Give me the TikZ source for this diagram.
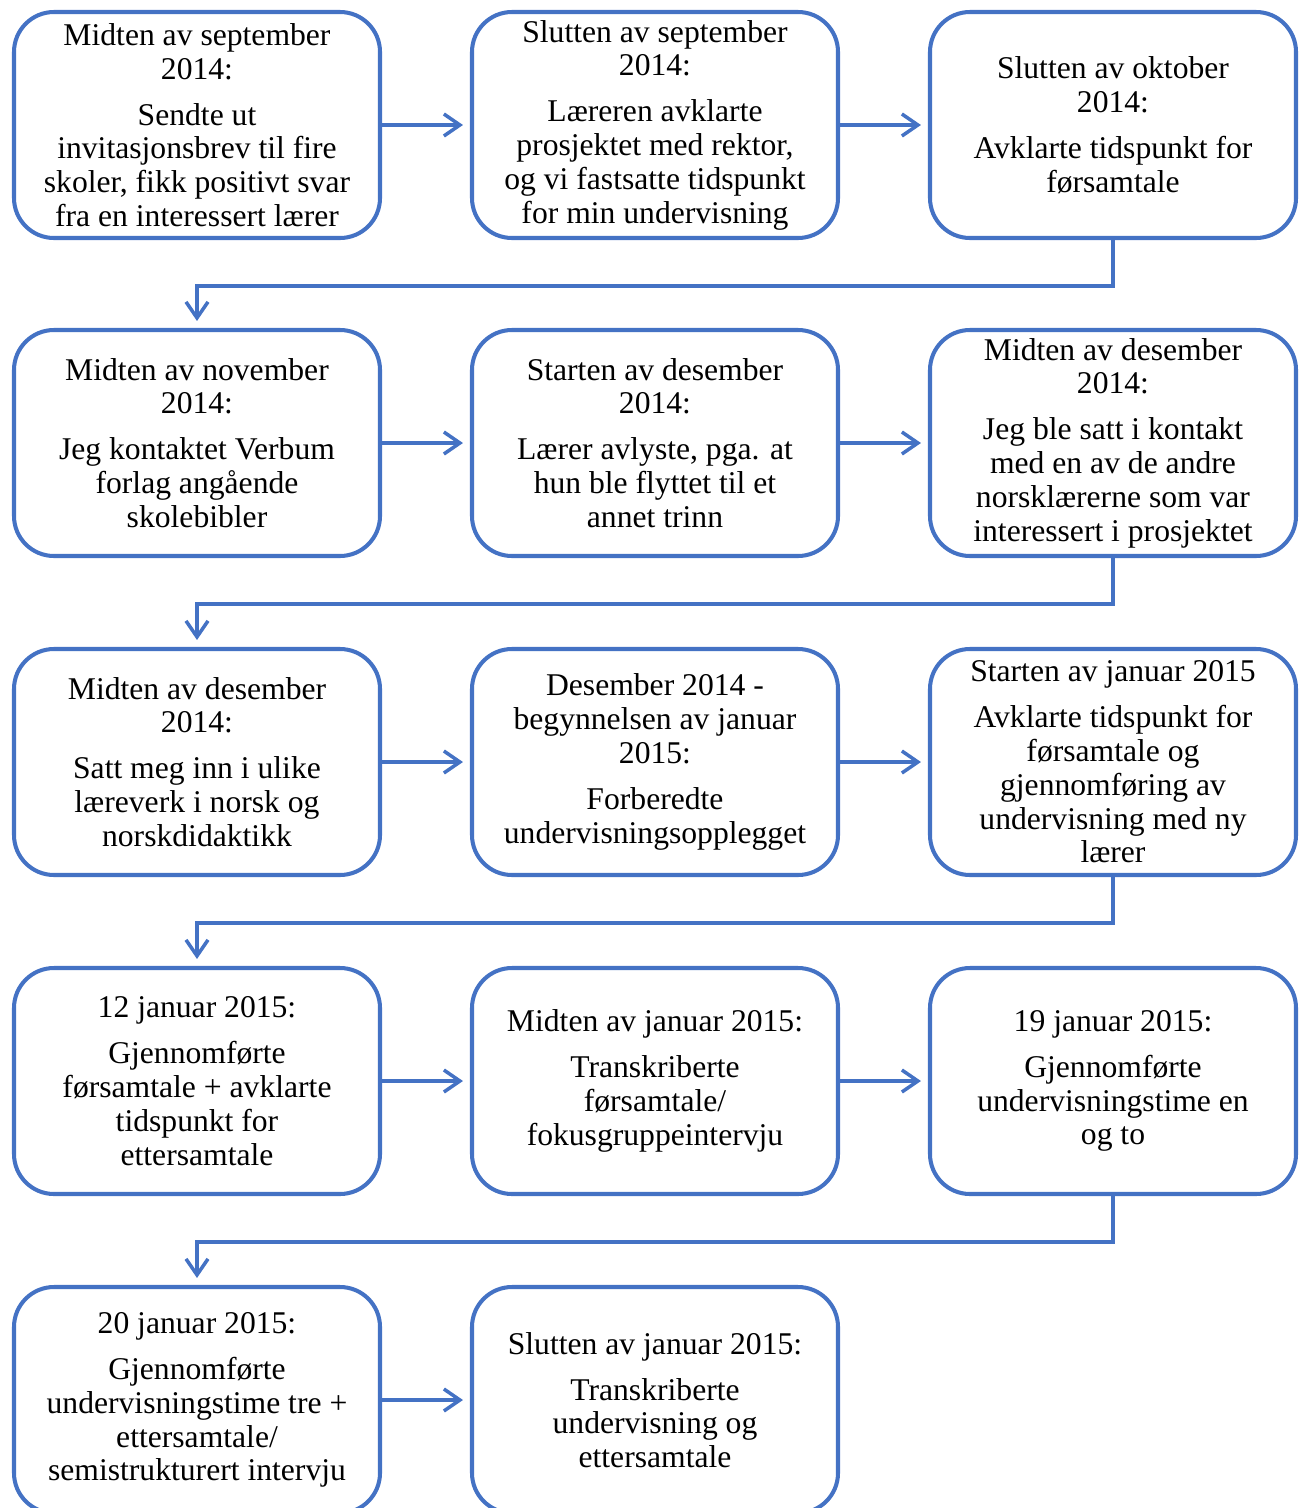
\documentclass[tikz,border=0pt]{standalone}
\usepackage{fontspec}
\setmainfont{Liberation Serif}
\usepackage{tikz}
\usetikzlibrary{arrows.meta, positioning, calc}
\definecolor{flowblue}{HTML}{4472C4}
\tikzset{
    arrow/.style={draw=flowblue, line width=2pt, -{Straight Barb[length=0.32cm, width=0.44cm]}, shorten >=0.14cm},
    turn/.style={draw=flowblue, line width=2pt, -{Straight Barb[length=0.32cm, width=0.44cm]}, shorten >=0.14cm, rounded corners=0pt}
}

\begin{document}
\begin{tikzpicture}[
    event/.style={rectangle, rounded corners=0.8cm, draw=flowblue, line width=2.3pt, fill=white, align=center, minimum width=7.32cm, minimum height=4.52cm, inner sep=0pt, font=\fontsize{18}{19.2}\selectfont}
]
    \useasboundingbox (0,0) rectangle (26.02,-30.16);

    % row 1
    \node[event] (sep1) at (3.94,-2.5) {Midten av september\\2014:\\[7pt]Sendte ut\\invitasjonsbrev til fire\\skoler, fikk positivt svar\\fra en interessert lærer};
    \node[event] (sep2) at (13.1,-2.5) {Slutten av september\\2014:\\[7pt]Læreren avklarte\\prosjektet med rektor,\\og vi fastsatte tidspunkt\\for min undervisning};
    \node[event] (okt) at (22.26,-2.5) {Slutten av oktober\\2014:\\[7pt]Avklarte tidspunkt for\\førsamtale};

    % row 2
    \node[event] (nov) at (3.94,-8.86) {Midten av november\\2014:\\[7pt]Jeg kontaktet Verbum\\forlag angående\\skolebibler};
    \node[event] (des1) at (13.1,-8.86) {Starten av desember\\2014:\\[7pt]Lærer avlyste, pga. at\\hun ble flyttet til et\\annet trinn};
    \node[event] (des2) at (22.26,-8.86) {Midten av desember\\2014:\\[7pt]Jeg ble satt i kontakt\\med en av de andre\\norsklærerne som var\\interessert i prosjektet};

    % row 3
    \node[event] (des3) at (3.94,-15.24) {Midten av desember\\2014:\\[7pt]Satt meg inn i ulike\\læreverk i norsk og\\norskdidaktikk};
    \node[event] (des4) at (13.1,-15.24) {Desember 2014 -\\begynnelsen av januar\\2015:\\[7pt]Forberedte\\undervisningsopplegget};
    \node[event] (jan1) at (22.26,-15.24) {Starten av januar 2015\\[7pt]Avklarte tidspunkt for\\førsamtale og\\gjennomføring av\\undervisning med ny\\lærer};

    % row 4
    \node[event] (jan12) at (3.94,-21.62) {12 januar 2015:\\[7pt]Gjennomførte\\førsamtale + avklarte\\tidspunkt for\\ettersamtale};
    \node[event] (jan2) at (13.1,-21.62) {Midten av januar 2015:\\[7pt]Transkriberte\\førsamtale/\\fokusgruppeintervju};
    \node[event] (jan19) at (22.26,-21.62) {19 januar 2015:\\[7pt]Gjennomførte\\undervisningstime en\\og to};

    % row 5
    \node[event] (jan20) at (3.94,-28.0) {20 januar 2015:\\[7pt]Gjennomførte\\undervisningstime tre +\\ettersamtale/\\semistrukturert intervju};
    \node[event] (jan3) at (13.1,-28.0) {Slutten av januar 2015:\\[7pt]Transkriberte\\undervisning og\\ettersamtale};

    \draw[arrow] (sep1) -- (sep2);
    \draw[arrow] (sep2) -- (okt);
    \draw[turn] (okt.south) -- ++(0,-0.92) -| (nov.north);
    \draw[arrow] (nov) -- (des1);
    \draw[arrow] (des1) -- (des2);
    \draw[turn] (des2.south) -- ++(0,-0.92) -| (des3.north);
    \draw[arrow] (des3) -- (des4);
    \draw[arrow] (des4) -- (jan1);
    \draw[turn] (jan1.south) -- ++(0,-0.92) -| (jan12.north);
    \draw[arrow] (jan12) -- (jan2);
    \draw[arrow] (jan2) -- (jan19);
    \draw[turn] (jan19.south) -- ++(0,-0.92) -| (jan20.north);
    \draw[arrow] (jan20) -- (jan3);
\end{tikzpicture}
\end{document}
